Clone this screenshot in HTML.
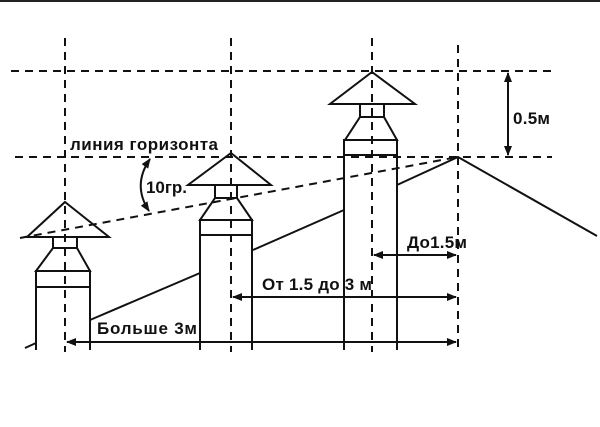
<!DOCTYPE html>
<html><head><meta charset="utf-8"><style>
html,body{margin:0;padding:0;background:#fff;}
svg{display:block}
text{font-family:"Liberation Sans",sans-serif;font-weight:bold;font-size:17px;fill:#111}
</style></head><body>
<svg width="600" height="427" viewBox="0 0 600 427">
<rect x="0" y="0" width="600" height="2" fill="#222"/>
<defs><marker id="a" markerWidth="10" markerHeight="8" refX="9" refY="4" orient="auto-start-reverse" markerUnits="userSpaceOnUse"><path d="M0,0L10,4L0,8z" fill="#111"/></marker></defs>
<g stroke="#111" stroke-width="2" fill="none" stroke-dasharray="8,6">
<line x1="65" y1="38" x2="65" y2="352"/>
<line x1="231" y1="38" x2="231" y2="352"/>
<line x1="372" y1="38" x2="372" y2="352"/>
<line x1="458" y1="45" x2="458" y2="352"/>
<line x1="11" y1="71" x2="552" y2="71"/>
<line x1="15" y1="157" x2="552" y2="157"/>
<line x1="20" y1="238" x2="458" y2="157"/>
</g>
<g stroke="#111" stroke-width="2" fill="none">
<polyline points="25,348 36,343"/>
<polyline points="90,320 200,273"/>
<polyline points="253,250 344,210"/>
<polyline points="397,185 458,157 597,236"/>
<polygon points="65,202 109,237 27,237"/>
<rect x="53" y="237" width="24" height="11"/>
<polygon points="53,248 77,248 90,271 36,271"/>
<polyline points="36,350 36,271 90,271 90,350"/>
<line x1="36" y1="287" x2="90" y2="287"/>
<polygon points="231,153 271,185 188,185"/>
<rect x="215" y="185" width="22" height="13"/>
<polygon points="215,198 237,198 252,220 200,220"/>
<polyline points="200,350 200,220 252,220 252,350"/>
<line x1="200" y1="235" x2="252" y2="235"/>
<polygon points="372,72 415,104 330,104"/>
<rect x="360" y="104" width="24" height="13"/>
<polygon points="360,117 384,117 397,140 345,140"/>
<polyline points="344,350 344,140 397,140 397,350"/>
<line x1="344" y1="155" x2="397" y2="155"/>
</g>
<g stroke="#111" stroke-width="2" fill="none">
<line x1="67" y1="342" x2="456" y2="342" marker-start="url(#a)" marker-end="url(#a)"/>
<line x1="233" y1="297" x2="456" y2="297" marker-start="url(#a)" marker-end="url(#a)"/>
<line x1="374" y1="255" x2="456" y2="255" marker-start="url(#a)" marker-end="url(#a)"/>
<line x1="508" y1="73" x2="508" y2="155" marker-start="url(#a)" marker-end="url(#a)"/>
<path d="M150,159 Q132,185 149,211" marker-start="url(#a)" marker-end="url(#a)"/>
</g>
<text x="70" y="150" textLength="148">линия горизонта</text>
<text x="146" y="193" textLength="41">10гр.</text>
<text x="97" y="334" textLength="100">Больше 3м</text>
<text x="262" y="290" textLength="110">От 1.5 до 3 м</text>
<text x="407" y="248" textLength="60">До1.5м</text>
<text x="513" y="124" textLength="37">0.5м</text>
</svg>
</body></html>
